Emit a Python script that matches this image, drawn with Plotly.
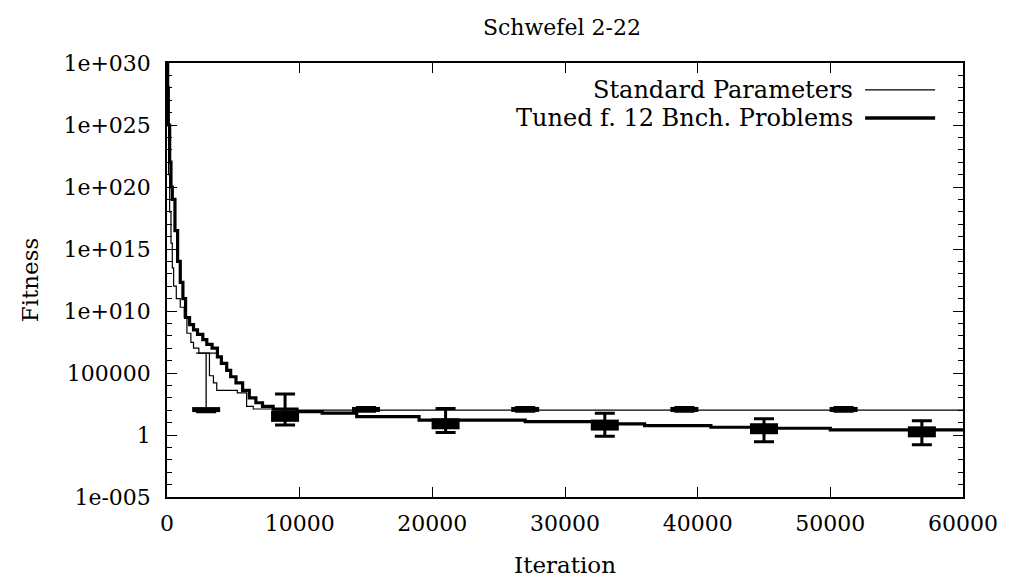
import plotly.graph_objects as go

# ---- data ----
standard_iter = [0, 60, 120, 200, 300, 400, 500, 700, 1000, 1300, 1500, 1800, 2000, 2400,
                 3200, 3500, 3750, 5300, 6000, 6500, 8000, 60000]
standard_fit = [1e29, 1e25, 1e21, 1e18, 3e15, 3e13, 1e12, 1e11, 2e10, 3e9, 1.6e8, 3e7, 1e7, 4e6,
                6e4, 1.6e4, 4e3, 2.5e3, 200, 125, 100, 93]

tuned_iter = [0, 50, 100, 200, 300, 400, 600, 800, 1000, 1200, 1400, 1700, 2000, 2300, 2700,
              3000, 3400, 3800, 4100, 4500, 4800, 5200, 5700, 6200, 6700, 7200, 8000, 9800,
              11700, 14300, 19000, 27000, 33000, 36000, 41000, 45000, 50000, 60000]
tuned_fit = [1e30, 1e28, 1e25, 1e22, 1e20, 1e19, 3e16, 1e14, 2e12, 1e11, 3e9, 8e8, 3e8, 1.3e8, 5e7,
             2e7, 1e7, 2e6, 6e5, 1.6e5, 5e4, 1.6e4, 4e3, 1e3, 400, 200, 125, 76,
             59, 30, 16, 12, 8, 5.6, 4.2, 3.5, 2.6, 2.5]

standard_err_x = [2950, 15000, 27000, 39000, 51000]
standard_err_mid = [112, 115, 115, 115, 115]
standard_err_low = [63, 70, 70, 70, 70]
standard_err_high = [4e6, 190, 190, 190, 190]

tuned_err_x = [8900, 21000, 33000, 45000, 56900]
tuned_err_mid = [32, 8, 6.3, 3.2, 1.8]
tuned_err_low = [6.3, 1.6, 0.8, 0.28, 0.16]
tuned_err_high = [2000, 140, 56, 20, 14]

y_tick_vals = [1e-5, 1, 1e5, 1e10, 1e15, 1e20, 1e25, 1e30]
y_tick_text = ["1e-005", "1", "100000", "1e+010", "1e+015", "1e+020", "1e+025", "1e+030"]
y_minor_vals = [10.0 ** k for k in range(-5, 31)]
x_tick_vals = [0, 10000, 20000, 30000, 40000, 50000, 60000]
x_tick_text = ["0", "10000", "20000", "30000", "40000", "50000", "60000"]

series_names = ["Standard Parameters", "Tuned f. 12 Bnch. Problems"]

FONT = "DejaVu Serif"

fig = go.Figure()

# step lines
fig.add_trace(go.Scatter(x=standard_iter, y=standard_fit, mode="lines", line_shape="hv",
                         line=dict(color="black", width=1.2), name=series_names[0],
                         showlegend=False))
fig.add_trace(go.Scatter(x=tuned_iter, y=tuned_fit, mode="lines", line_shape="hv",
                         line=dict(color="black", width=3.2), name=series_names[1],
                         showlegend=False))

# error bars
def err_trace(xs, mid, low, high, thick, blockw):
    return go.Scatter(
        x=xs, y=mid, mode="markers", showlegend=False,
        marker=dict(symbol="line-ew", size=20, color="black",
                    line=dict(color="black", width=blockw)),
        error_y=dict(type="data", symmetric=False,
                     array=[h - m for h, m in zip(high, mid)],
                     arrayminus=[m - l for m, l in zip(mid, low)],
                     color="black", thickness=thick, width=10),
    )

fig.add_trace(err_trace(standard_err_x, standard_err_mid, standard_err_low, standard_err_high, 1.3, 5))
fig.add_trace(err_trace(tuned_err_x, tuned_err_mid, tuned_err_low, tuned_err_high, 3, 11))

# gnuplot-style legend: text then line sample
legend_y = [0.938, 0.873]
legend_w = [1.3, 3.5]
for name, ly, lw in zip(series_names, legend_y, legend_w):
    fig.add_annotation(x=0.864, y=ly, xref="paper", yref="paper", text=name, showarrow=False,
                       xanchor="right", yanchor="middle", font=dict(family=FONT, size=24, color="black"))
    fig.add_shape(type="line", xref="paper", yref="paper", x0=0.877, x1=0.965, y0=ly, y1=ly,
                  line=dict(color="black", width=lw))

axis_common = dict(showline=True, linecolor="black", linewidth=1.5, mirror="allticks",
                   ticks="inside", tickcolor="black", showgrid=False, zeroline=False,
                   tickfont=dict(family=FONT, size=22, color="black"))

fig.update_layout(
    width=1022, height=580,
    margin=dict(l=159, r=67, t=55, b=91),
    paper_bgcolor="white", plot_bgcolor="white",
    title=dict(text="Schwefel 2-22", x=0.542, xanchor="center", y=0.967, yanchor="middle",
               font=dict(family=FONT, size=22, color="black")),
    xaxis=dict(range=[0, 60000], tickvals=x_tick_vals, ticktext=x_tick_text, ticklen=10, tickwidth=1.3,
               ticklabelstandoff=6,
               title=dict(text="Iteration", font=dict(family=FONT, size=23, color="black"), standoff=22),
               **axis_common),
    yaxis=dict(type="log", range=[-5, 30], tickvals=y_tick_vals, ticktext=y_tick_text,
               ticklen=10, tickwidth=1.3, ticklabelstandoff=10,
               minor=dict(tickvals=y_minor_vals, ticklen=5, tickcolor="black", tickwidth=1.2, ticks="inside"),
               title=dict(text="Fitness", font=dict(family=FONT, size=23, color="black"), standoff=18),
               **axis_common),
)

fig.write_html("out.html")
